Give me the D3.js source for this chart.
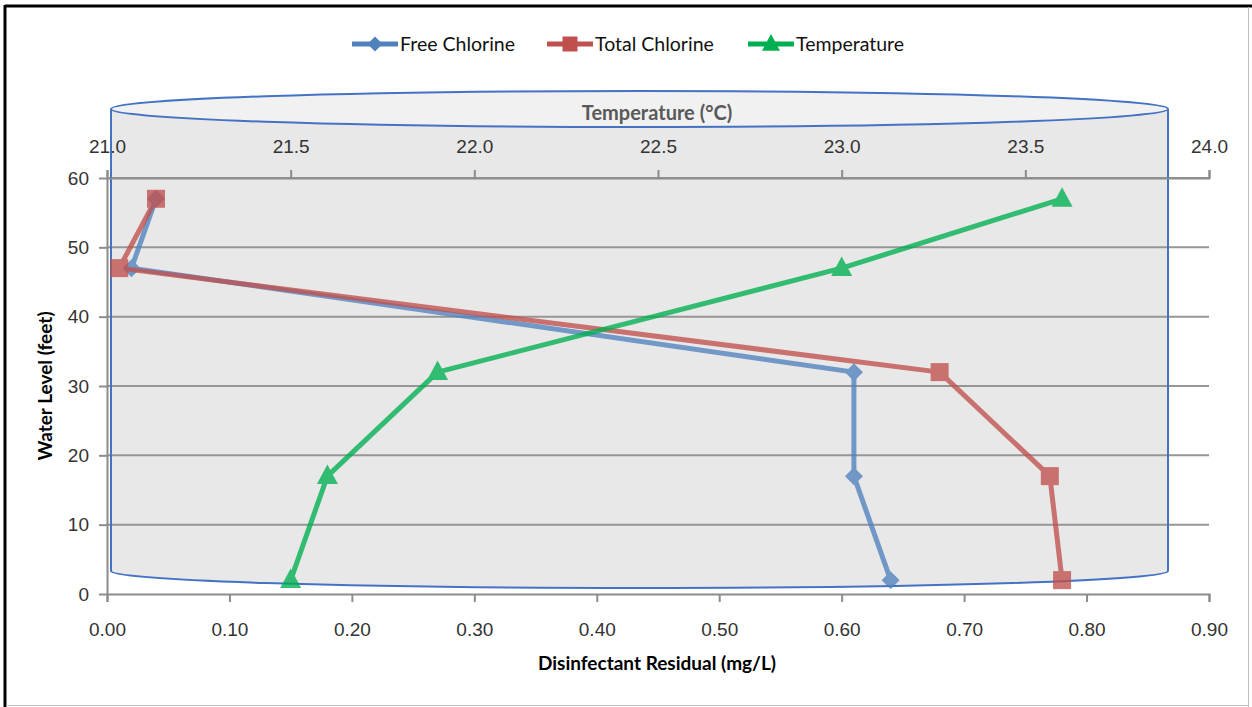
<!DOCTYPE html>
<html>
<head>
<meta charset="utf-8">
<script src="https://cdn.jsdelivr.net/npm/d3@7"></script>
<style>
  body { margin: 0; background: #fff; }
  svg { display: block; font-family: Lato, 'Open Sans', sans-serif; }
  .tick text { fill: #333; font-size: 19px; }
  .axis path, .axis line { stroke: #8c8c8c; }
</style>
</head>
<body>
<div id="chart"></div>
<script>
// water level (feet) for each sample depth
const levels = [57, 47, 32, 17, 2];
const freeChlorine = [0.04, 0.02, 0.61, 0.61, 0.64];
const totalChlorine = [0.04, 0.01, 0.68, 0.77, 0.78];
const temperature = [23.6, 23.0, 21.9, 21.6, 21.5];

const xTicks = [0, 0.1, 0.2, 0.3, 0.4, 0.5, 0.6, 0.7, 0.8, 0.9];
const yTicks = [0, 10, 20, 30, 40, 50, 60];
const tTicks = [21.0, 21.5, 22.0, 22.5, 23.0, 23.5, 24.0];

const series = [
  { name: 'Free Chlorine', color: '#4f81bd', marker: 'diamond', xs: freeChlorine, scale: 'x' },
  { name: 'Total Chlorine', color: '#c0504d', marker: 'square', xs: totalChlorine, scale: 'x' },
  { name: 'Temperature', color: '#00b050', marker: 'triangle', xs: temperature, scale: 't' },
];

const W = 1252, H = 707;
const margin = { top: 178, right: 43, bottom: 113, left: 107 };
const width = W - margin.left - margin.right,
  height = H - margin.top - margin.bottom;

const svg = d3.select('#chart').append('svg')
  .attr('width', W)
  .attr('height', H);

// frame
svg.append('line').attr('x1', 5).attr('x2', 5).attr('y1', 5).attr('y2', H)
  .attr('stroke', '#000').attr('stroke-width', 3);
svg.append('line').attr('x1', 5).attr('x2', W).attr('y1', 6).attr('y2', 6)
  .attr('stroke', '#000').attr('stroke-width', 3);
svg.append('line').attr('x1', 1248.5).attr('x2', 1248.5).attr('y1', 7).attr('y2', H)
  .attr('stroke', '#bfbfbf');
svg.append('line').attr('x1', 6).attr('x2', 1249).attr('y1', 705.5).attr('y2', 705.5)
  .attr('stroke', '#bfbfbf');

const x = d3.scaleLinear().domain([0, 0.9]).range([0, width]);
const t = d3.scaleLinear().domain([21, 24]).range([0, width]);
const y = d3.scaleLinear().domain([0, 60]).range([height, 0]);

const g = svg.append('g')
  .attr('transform', `translate(${margin.left},${margin.top})`);

// tank (cylinder) behind the plot
const tank = { left: 4, right: 1061, topY: -69, topRy: 18, botRy: 17 };
const cx = (tank.left + tank.right) / 2, rx = (tank.right - tank.left) / 2;
const botCy = y(0) - 23;
const tankBody = `M${tank.left},${tank.topY} L${tank.left},${botCy}`
  + ` A${rx},${tank.botRy} 0 0 0 ${tank.right},${botCy} L${tank.right},${tank.topY}`;
g.append('path')
  .attr('d', tankBody + 'Z')
  .attr('fill', '#e8e8e8');
g.append('ellipse')
  .attr('cx', cx).attr('cy', tank.topY).attr('rx', rx).attr('ry', tank.topRy)
  .attr('fill', '#f1f1f1');

// grid
g.append('g')
  .selectAll('line')
  .data(yTicks.filter((d) => d > 0))
  .join('line')
  .attr('x1', 0).attr('x2', width)
  .attr('y1', (d) => y(d)).attr('y2', (d) => y(d))
  .attr('stroke', '#969696').attr('stroke-width', 2);

// tank outline on top of the grid
g.append('path')
  .attr('d', tankBody)
  .attr('fill', 'none').attr('stroke', '#4472c4').attr('stroke-width', 2);
g.append('ellipse')
  .attr('cx', cx).attr('cy', tank.topY).attr('rx', rx).attr('ry', tank.topRy)
  .attr('fill', 'none').attr('stroke', '#4472c4').attr('stroke-width', 2);

// axes
const fmt2 = d3.format('.2f'), fmt1 = d3.format('.1f');
g.append('g')
  .attr('class', 'axis')
  .attr('transform', `translate(0,${height})`)
  .call(d3.axisBottom(x).tickValues(xTicks).tickFormat(fmt2).tickSize(8).tickSizeOuter(8).tickPadding(21));
g.append('g')
  .attr('class', 'axis')
  .call(d3.axisLeft(y).tickValues(yTicks).tickSize(8).tickSizeOuter(0).tickPadding(10));
g.append('g')
  .attr('class', 'axis')
  .call(d3.axisTop(t).tickValues(tTicks).tickFormat(fmt1).tickSize(8).tickSizeOuter(8).tickPadding(17));
g.selectAll('.axis path, .axis line').attr('stroke-width', 2);

// axis titles
g.append('text')
  .attr('x', 550).attr('y', height + 76)
  .attr('text-anchor', 'middle')
  .attr('font-size', 19).attr('font-weight', 'bold').attr('fill', '#000')
  .text('Disinfectant Residual (mg/L)');
g.append('text')
  .attr('transform', `translate(-55,${height / 2}) rotate(-90)`)
  .attr('text-anchor', 'middle')
  .attr('font-size', 19).attr('font-weight', 'bold').attr('fill', '#000')
  .text('Water Level (feet)');
g.append('text')
  .attr('x', 550).attr('y', -58)
  .attr('text-anchor', 'middle')
  .attr('font-size', 20).attr('font-weight', 'bold').attr('fill', '#595959')
  .text('Temperature (°C)');

// markers
const markerPath = (type, r) => {
  if (type === 'diamond') return `M0,${-r}L${r},0L0,${r}L${-r},0Z`;
  if (type === 'square') return `M${-r},${-r}H${r}V${r}H${-r}Z`;
  return `M0,${-r * 1.1}L${r},${r * 0.75}L${-r},${r * 0.75}Z`;
};
const markerSize = { diamond: 9, square: 9, triangle: 10.5 };

// series lines
series.forEach((s) => {
  const sx = s.scale === 'x' ? x : t;
  const pts = levels.map((lv, i) => [sx(s.xs[i]), y(lv)]);
  const sg = g.append('g').attr('opacity', 0.78);
  sg.append('path')
    .attr('d', d3.line()(pts))
    .attr('fill', 'none')
    .attr('stroke', s.color)
    .attr('stroke-width', 5)
    .attr('stroke-linejoin', 'round');
  sg.selectAll('path.m')
    .data(pts)
    .join('path')
    .attr('class', 'm')
    .attr('transform', (d) => `translate(${d[0]},${d[1]})`)
    .attr('d', markerPath(s.marker, markerSize[s.marker]))
    .attr('fill', s.color);
});

// legend
const legendX = [352, 547, 748];
const legend = svg.append('g').attr('transform', 'translate(0,44)');
series.forEach((s, i) => {
  const lg = legend.append('g').attr('transform', `translate(${legendX[i]},0)`);
  lg.append('line').attr('x1', 0).attr('x2', 46)
    .attr('stroke', s.color).attr('stroke-width', 5);
  lg.append('path')
    .attr('transform', 'translate(23,0)')
    .attr('d', markerPath(s.marker, markerSize[s.marker] - 1.5))
    .attr('fill', s.color);
  lg.append('text')
    .attr('x', 48).attr('dy', '0.35em')
    .attr('font-size', 19.5).attr('fill', '#111')
    .text(s.name);
});
</script>
</body>
</html>
